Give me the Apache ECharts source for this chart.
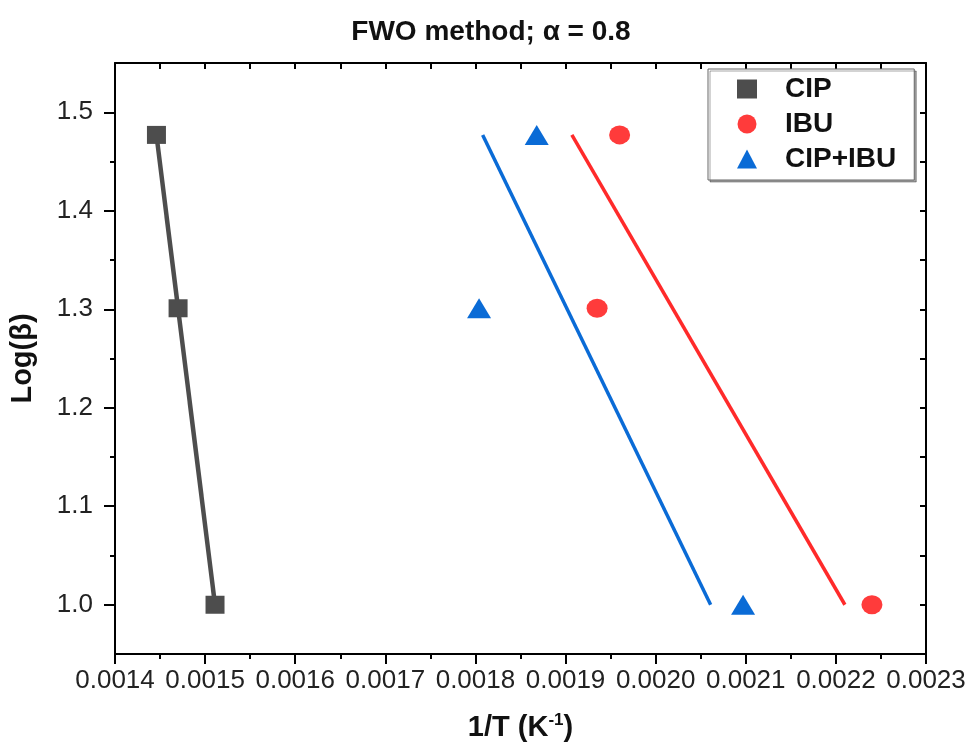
<!DOCTYPE html>
<html>
<head>
<meta charset="utf-8">
<script src="https://cdn.jsdelivr.net/npm/echarts@6/dist/echarts.min.js"></script>
<style>
  html, body { margin: 0; padding: 0; background: #fff; }
  #chart { width: 973px; height: 756px; }
</style>
</head>
<body>
<div id="chart"></div>
<script>
// ---- data ----
const seriesNames = ['CIP', 'IBU', 'CIP+IBU'];
const logBeta = [1.477, 1.301, 1.0];
const invT_CIP = [0.001446, 0.001470, 0.001511];
const invT_IBU = [0.001960, 0.001935, 0.002240];
const invT_MIX = [0.001868, 0.001804, 0.002097];
// fitted straight lines (end points)
const fitY = [1.477, 1.0];
const fitX_CIP = [0.001446, 0.001511];
const fitX_IBU = [0.001907, 0.002210];
const fitX_MIX = [0.001808, 0.002061];
// axis ticks
const xMajor = [0.0014, 0.0015, 0.0016, 0.0017, 0.0018, 0.0019, 0.0020, 0.0021, 0.0022, 0.0023];
const xMinor = [0.00145, 0.00155, 0.00165, 0.00175, 0.00185, 0.00195, 0.00205, 0.00215, 0.00225];
const yMajor = [1.0, 1.1, 1.2, 1.3, 1.4, 1.5];
const yMinor = [1.05, 1.15, 1.25, 1.35, 1.45];

const colors = { CIP: '#4d4d4d', IBU: '#ff3b3b', MIX: '#0a6bd6', IBUline: '#ff2a2a' };
const FONT = 'Liberation Sans, Arial, sans-serif';

const pairs = (xs, ys) => xs.map((x, i) => [x, ys[i]]);
const allX = xMajor.concat(xMinor).sort((a, b) => a - b);
const allY = yMajor.concat(yMinor).concat([0.95, 1.55]).sort((a, b) => a - b);

const axLine = { show: true, lineStyle: { color: '#000', width: 2 } };
const tickStyle = { color: '#000', width: 2 };

const chart = echarts.init(document.getElementById('chart'), null, { renderer: 'canvas' });
chart.setOption({
  backgroundColor: '#fff',
  animation: false,
  title: {
    text: 'FWO method; α = 0.8',
    left: 486, top: 13, textAlign: 'center',
    textStyle: { fontFamily: FONT, fontSize: 28, fontWeight: 'bold', color: '#111' }
  },
  grid: { left: 110, right: 47, top: 63, bottom: 102, containLabel: false },
  legend: {
    orient: 'vertical',
    left: 708, top: 69,
    padding: [6, 18, 7, 29],
    itemGap: 7,
    itemWidth: 20, itemHeight: 19,
    backgroundColor: '#fff',
    borderColor: '#666', borderWidth: 1,
    shadowColor: 'rgba(0,0,0,0.35)', shadowBlur: 0, shadowOffsetX: 2, shadowOffsetY: 2,
    data: [
      { name: 'CIP', icon: 'rect' },
      { name: 'IBU', icon: 'circle' },
      { name: 'CIP+IBU', icon: 'triangle' }
    ],
    textStyle: { fontFamily: FONT, fontSize: 28, fontWeight: 'bold', color: '#111', lineHeight: 28, padding: [0, 0, 0, 23] }
  },
  xAxis: [
    {
      type: 'value', position: 'bottom', min: 0.0014, max: 0.0023,
      axisLine: axLine,
      axisTick: { show: true, customValues: xMajor, length: 10, lineStyle: tickStyle },
      axisLabel: { customValues: xMajor, formatter: v => v.toFixed(4), margin: 14, fontFamily: FONT, fontSize: 26, color: '#222' },
      splitLine: { show: false },
      name: '1/T (K{sup|-1})', nameLocation: 'middle', nameGap: 58,
      nameTextStyle: {
        fontFamily: FONT, fontSize: 29, fontWeight: 'bold', color: '#111',
        rich: { sup: { fontFamily: FONT, fontSize: 17, fontWeight: 'bold', color: '#111', verticalAlign: 'top', lineHeight: 32 } }
      }
    },
    {
      type: 'value', position: 'bottom', min: 0.0014, max: 0.0023,
      axisLine: { show: false },
      axisTick: { show: true, customValues: xMinor, length: 5, lineStyle: tickStyle },
      axisLabel: { show: false }, splitLine: { show: false }
    },
    {
      type: 'value', position: 'top', min: 0.0014, max: 0.0023,
      axisLine: axLine,
      axisTick: { show: true, inside: true, customValues: allX, length: 6, lineStyle: tickStyle },
      axisLabel: { show: false }, splitLine: { show: false }
    }
  ],
  yAxis: [
    {
      type: 'value', position: 'left', min: 0.95, max: 1.55,
      axisLine: axLine,
      axisTick: { show: true, customValues: yMajor, length: 11, lineStyle: tickStyle },
      axisLabel: { customValues: yMajor, formatter: v => v.toFixed(1), margin: 22, fontFamily: FONT, fontSize: 26, color: '#222' },
      splitLine: { show: false },
      name: 'Log(β)', nameLocation: 'middle', nameGap: 78, nameRotate: 90,
      nameTextStyle: { fontFamily: FONT, fontSize: 29, fontWeight: 'bold', color: '#111' }
    },
    {
      type: 'value', position: 'left', min: 0.95, max: 1.55,
      axisLine: { show: false },
      axisTick: { show: true, customValues: yMinor, length: 5, lineStyle: tickStyle },
      axisLabel: { show: false }, splitLine: { show: false }
    },
    {
      type: 'value', position: 'right', min: 0.95, max: 1.55,
      axisLine: axLine,
      axisTick: { show: true, inside: true, customValues: allY, length: 6, lineStyle: tickStyle },
      axisLabel: { show: false }, splitLine: { show: false }
    }
  ],
  series: [
    { name: 'CIP fit', type: 'line', data: pairs(fitX_CIP, fitY), showSymbol: false, symbol: 'none',
      lineStyle: { color: colors.CIP, width: 4.5 }, z: 2 },
    { name: 'IBU fit', type: 'line', data: pairs(fitX_IBU, fitY), showSymbol: false, symbol: 'none',
      lineStyle: { color: colors.IBUline, width: 3.5 }, z: 2 },
    { name: 'CIP+IBU fit', type: 'line', data: pairs(fitX_MIX, fitY), showSymbol: false, symbol: 'none',
      lineStyle: { color: colors.MIX, width: 3.5 }, z: 2 },
    { name: 'CIP', type: 'scatter', data: pairs(invT_CIP, logBeta), symbol: 'rect', symbolSize: [19, 18],
      itemStyle: { color: colors.CIP, opacity: 1 }, z: 3 },
    { name: 'IBU', type: 'scatter', data: pairs(invT_IBU, logBeta), symbol: 'circle', symbolSize: [21, 19],
      itemStyle: { color: colors.IBU, opacity: 1 }, z: 3 },
    { name: 'CIP+IBU', type: 'scatter', data: pairs(invT_MIX, logBeta), symbol: 'triangle', symbolSize: [24, 20],
      itemStyle: { color: colors.MIX, opacity: 1 }, z: 3 }
  ]
});
</script>
</body>
</html>
